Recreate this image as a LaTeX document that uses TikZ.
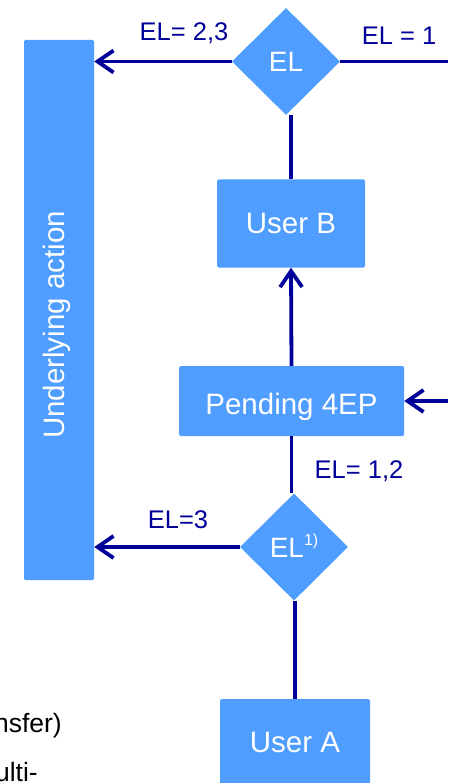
\documentclass[tikz,border=0pt]{standalone}
\usepackage{fontspec}
\setmainfont{Liberation Sans}
\usetikzlibrary{shapes.geometric,arrows.meta}
\definecolor{boxblue}{RGB}{79,157,255}
\definecolor{linblue}{RGB}{0,0,153}
\begin{document}
\begin{tikzpicture}[x=1pt,y=-1pt,
  box/.style={rectangle, fill=boxblue, text=white, rounded corners=1.5pt, inner sep=0pt,
    font=\fontsize{29.5}{34}\selectfont, text height=21pt, text depth=0pt},
  dia/.style={diamond, fill=boxblue, text=white, inner sep=0pt, minimum width=108pt,
    minimum height=107pt, font=\fontsize{28}{32}\selectfont, text height=20pt, text depth=0pt},
  conn/.style={draw=linblue, line width=3.8pt},
  arr/.style={conn, -{Straight Barb[length=16pt,width=22pt]}},
  lab/.style={text=linblue, font=\fontsize{25.5}{28}\selectfont, inner sep=0pt, anchor=base},
  side/.style={text=black, font=\fontsize{26.5}{30}\selectfont, inner sep=0pt, anchor=base east}]
\useasboundingbox (0,0) rectangle (448,783);
% boxes
\node[box, minimum width=70pt, minimum height=540pt] (ua) at (59,310) {};
\node[text=white, font=\fontsize{29.5}{34}\selectfont, inner sep=0pt, rotate=90] (uatext) at (57,325) {Underlying action};
\node[box, minimum width=148pt, minimum height=88pt] (ub) at (291,223.5) {User B};
\node[box, minimum width=225pt, minimum height=70pt, text height=27pt] (pend) at (291.5,401) {Pending 4EP};
\node[box, minimum width=150pt, minimum height=86pt] (uA) at (295,742) {User A};
\node[dia] (d1) at (286,61.5) {EL};
\node[dia] (d2) at (294,547) {EL\raisebox{12pt}{\fontsize{16}{16}\selectfont 1)}};
% labels
\node[lab] (l1) at (184,41) {EL= 2,3};
\node[lab] (l2) at (399,45) {EL = 1};
\node[lab] (l3) at (359,478) {EL= 1,2};
\node[lab] (l4) at (178,528) {EL=3};
\node[side] (s1) at (62,732) {nsfer)};
\node[side] (s2) at (38,781) {ulti-};
% connectors
\coordinate (rtop) at (448,62);
\coordinate (rmid) at (448,401);
\draw[arr] (d1.west) -- (d1.west -| ua.east);
\draw[conn] (d1.east) -- (d1.east -| rtop);
\draw[conn] (ub.north) -- (ub.north |- d1.south);
\draw[arr] (pend.north) -- (ub.south);
\draw[arr] (rmid) -- (pend.east);
\draw[conn] (pend.south) -- (pend.south |- d2.north);
\draw[arr] (d2.west) -- (d2.west -| ua.east);
\draw[conn] (uA.north) -- (uA.north |- d2.south);
\end{tikzpicture}
\end{document}
